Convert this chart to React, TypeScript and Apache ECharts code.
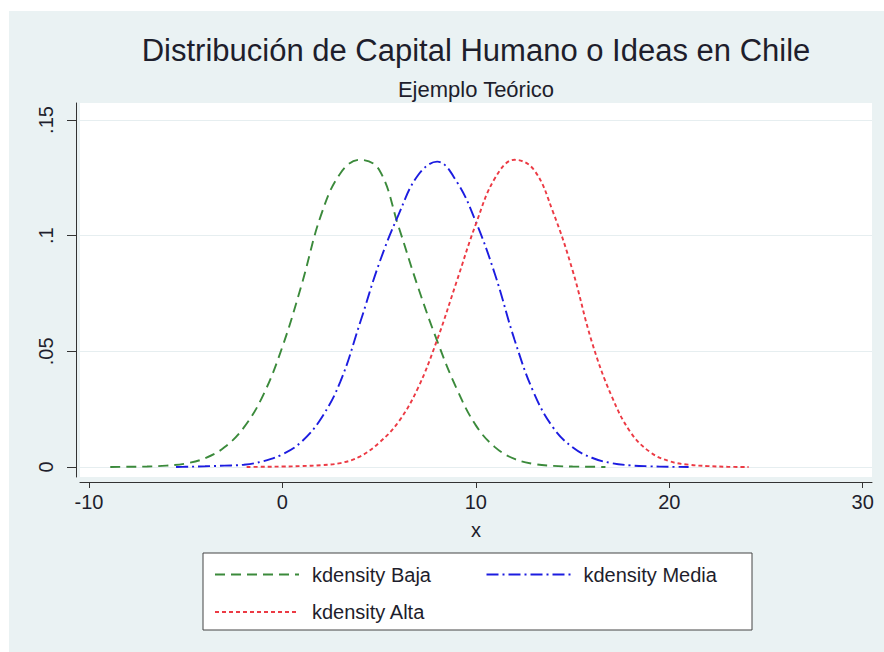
import React, { useEffect, useRef } from "react";
import * as echarts from "echarts";

const titleText = "Distribución de Capital Humano o Ideas en Chile";
const subtitleText = "Ejemplo Teórico";
const xAxisName = "x";
const xTicks = [-10, 0, 10, 20, 30];
const yTicks = [0, 0.05, 0.1, 0.15];

const seriesNames = ["kdensity Baja", "kdensity Media", "kdensity Alta"];

const bajaX = [-8.9, -8, -7, -6, -5, -4, -3, -2, -1, 0, 1, 2, 3, 4, 5, 6, 7, 8, 9, 10, 11, 12, 13, 14, 15, 16, 16.7];
const bajaY = [0, 0.0001, 0.0002, 0.0006, 0.0015, 0.0038, 0.0085, 0.017, 0.031, 0.052, 0.079, 0.109, 0.127, 0.1328, 0.1285, 0.104, 0.078, 0.0545, 0.034, 0.018, 0.0085, 0.0035, 0.0013, 0.0005, 0.0002, 0.0001, 0];

const mediaX = [-5.5, -5, -4, -3, -2, -1, 0, 1, 2, 3, 4, 5, 6, 7, 8, 9, 10, 11, 12, 13, 14, 15, 16, 17, 18, 19, 20, 21];
const mediaY = [0, 0.0001, 0.0003, 0.0006, 0.001, 0.0025, 0.0055, 0.011, 0.021, 0.037, 0.062, 0.088, 0.109, 0.126, 0.132, 0.1235, 0.106, 0.083, 0.055, 0.032, 0.017, 0.0085, 0.004, 0.0017, 0.0007, 0.0003, 0.0001, 0];

const altaX = [-1.85, -1, 0, 1, 2, 3, 4, 5, 6, 7, 8, 9, 10, 11, 12, 13, 14, 15, 16, 17, 18, 19, 20, 21, 22, 23, 24.1];
const altaY = [0, 0.0001, 0.0002, 0.0004, 0.0008, 0.0017, 0.0045, 0.0105, 0.0195, 0.034, 0.055, 0.08, 0.105, 0.125, 0.1328, 0.1285, 0.11, 0.085, 0.054, 0.031, 0.015, 0.0065, 0.0025, 0.001, 0.0004, 0.0001, 0];

const FONT = "'Liberation Sans', Arial, Helvetica, sans-serif";
const TEXT = "#1e1e2c";

export default function App() {
  const ref = useRef<HTMLDivElement>(null);
  useEffect(() => {
    document.body.style.margin = "0";
    const chart = echarts.init(ref.current!, null, { renderer: "svg" });
    const pair = (xs: number[], ys: number[]) => xs.map((x, i) => [x, ys[i]]);
    chart.setOption({
      animation: false,
      backgroundColor: "#eaf2f3",
      title: [
        {
          text: titleText,
          left: 467,
          top: 21,
          textAlign: "center",
          padding: 0,
          textStyle: { fontSize: 31, lineHeight: 36, fontWeight: "normal", color: TEXT, fontFamily: FONT },
        },
        {
          text: subtitleText,
          left: 467,
          top: 65,
          textAlign: "center",
          padding: 0,
          textStyle: { fontSize: 22, lineHeight: 26, fontWeight: "normal", color: TEXT, fontFamily: FONT },
        },
      ],
      grid: {
        left: 71,
        right: 12,
        top: 92,
        bottom: 175,
        show: true,
        backgroundColor: "#ffffff",
        borderWidth: 0,
        containLabel: false,
        outerBoundsMode: "none",
      },
      legend: {
        data: seriesNames,
        left: 194,
        top: 542,
        width: 540,
        orient: "horizontal",
        padding: [10, 9.5, 6.5, 11],
        itemGap: 14.5,
        itemWidth: 84,
        itemHeight: 14,
        backgroundColor: "#ffffff",
        borderColor: "#444444",
        borderWidth: 1,
        selectedMode: false,
        itemStyle: { opacity: 0, color: "transparent", borderWidth: 0 },
        textStyle: { fontSize: 20, lineHeight: 23, width: 159, color: TEXT, fontFamily: FONT, padding: [0, 0, 0, 8] },
      },
      xAxis: {
        type: "value",
        min: -10.465,
        max: 30.48,
        offset: 5,
        name: xAxisName,
        nameLocation: "middle",
        nameGap: 38,
        nameTextStyle: { fontSize: 20, color: TEXT, fontFamily: FONT },
        axisLine: { show: true, onZero: false, lineStyle: { color: "#333333", width: 1 } },
        axisTick: { show: true, length: 6, customValues: xTicks, lineStyle: { color: "#333333" } },
        axisLabel: { customValues: xTicks, margin: 10, fontSize: 20, color: TEXT, fontFamily: FONT },
        splitLine: { show: false },
      },
      yAxis: {
        type: "value",
        min: -0.00432,
        max: 0.15735,
        offset: 4,
        axisLine: { show: true, onZero: false, lineStyle: { color: "#333333", width: 1 } },
        axisTick: { show: true, length: 9, customValues: yTicks, lineStyle: { color: "#333333" } },
        axisLabel: {
          customValues: yTicks,
          rotate: 90,
          margin: 20,
          fontSize: 20,
          color: TEXT,
          fontFamily: FONT,
          formatter: (v: number) => (v === 0 ? "0" : String(v).replace(/^0\./, ".")),
        },
        splitLine: { show: false },
      },
      series: [
        {
          name: seriesNames[0],
          type: "line",
          data: pair(bajaX, bajaY),
          symbol: "none",
          smooth: 0.4,
          lineStyle: { color: "#3b8a3b", width: 1.9, type: [10, 6] },
          itemStyle: { color: "#3b8a3b" },
          z: 3,
          markLine: {
            silent: true,
            symbol: "none",
            label: { show: false },
            lineStyle: { color: "#e6eef0", width: 1, type: "solid" },
            data: yTicks.map((v) => ({ yAxis: v })),
            z: 1,
          },
        },
        {
          name: seriesNames[1],
          type: "line",
          data: pair(mediaX, mediaY),
          symbol: "none",
          smooth: 0.4,
          lineStyle: { color: "#1c1ce0", width: 1.9, type: [12, 4, 2, 4] },
          itemStyle: { color: "#1c1ce0" },
          z: 3,
        },
        {
          name: seriesNames[2],
          type: "line",
          data: pair(altaX, altaY),
          symbol: "none",
          smooth: 0.4,
          lineStyle: { color: "#ec3a44", width: 1.9, type: [4, 3] },
          itemStyle: { color: "#ec3a44" },
          z: 3,
        },
      ],
    });
    return () => chart.dispose();
  }, []);
  return (
    <div style={{ position: "absolute", left: 0, top: 0, width: 884, height: 652, background: "#ffffff" }}>
      <div ref={ref} style={{ position: "absolute", left: 9, top: 11, width: 875, height: 641 }} />
    </div>
  );
}
